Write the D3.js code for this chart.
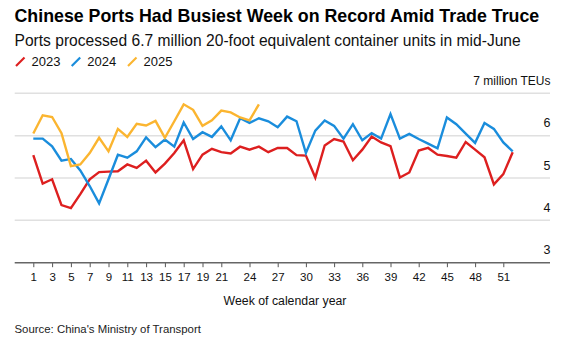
<!DOCTYPE html>
<html><head><meta charset="utf-8">
<script src="https://cdn.jsdelivr.net/npm/d3@7"></script>
<style>body{margin:0;background:#fff}svg{display:block;font-family:"Liberation Sans",Arial,sans-serif}</style>
</head><body><svg id="c" width="567" height="343"></svg>
<script>
const weeks = d3.range(1, 53);
const s2023 = [5.54,4.87,4.97,4.36,4.29,4.62,4.97,5.14,5.15,5.16,5.32,5.24,5.41,5.13,5.34,5.59,5.89,5.21,5.55,5.69,5.61,5.58,5.74,5.67,5.74,5.61,5.71,5.71,5.54,5.53,5.01,5.77,5.92,5.86,5.42,5.67,5.98,5.84,5.75,5.01,5.13,5.65,5.71,5.55,5.52,5.48,5.85,5.67,5.49,4.85,5.09,5.61];
const s2024 = [5.93,5.93,5.75,5.41,5.45,5.18,4.81,4.40,4.97,5.55,5.48,5.63,5.96,5.73,5.91,5.74,6.31,5.92,6.08,5.97,6.22,5.89,6.41,6.30,6.41,6.34,6.20,6.45,6.34,5.59,6.12,6.36,6.23,5.93,6.27,5.89,6.06,5.93,6.51,5.93,6.04,5.92,5.81,5.70,6.43,6.27,6.05,5.83,6.30,6.16,5.84,5.63];
const s2025 = [6.05,6.48,6.44,6.06,5.28,5.32,5.59,5.95,5.63,6.16,5.97,6.28,6.24,6.35,5.95,6.34,6.74,6.61,6.23,6.36,6.59,6.55,6.43,6.36,6.74];
const yTicks = [3,4,5,6,7];
const xTicks = [1,3,5,7,9,11,13,15,17,19,21,24,27,30,33,36,39,42,45,48,51];
const seriesNames = ["2023","2024","2025"];
const colors = ["#dd1f1f","#1a8ddc","#fbb530"];

const svg = d3.select("#c");
const x = d3.scaleLinear().domain([1,52]).range([33.3,512.7]);
const y = d3.scaleLinear().domain([3,7]).range([262.7,93.3]);
const gx0 = 14.7, gx1 = 550;

svg.append("text").attr("x",14.5).attr("y",22).attr("font-size","17.8px").attr("font-weight","bold").attr("fill","#000")
  .text("Chinese Ports Had Busiest Week on Record Amid Trade Truce");
svg.append("text").attr("x",14.5).attr("y",45.5).attr("font-size","15.6px").attr("fill","#111")
  .text("Ports processed 6.7 million 20-foot equivalent container units in mid-June");

// legend
const lx = [16, 71.7, 128];
seriesNames.forEach((n,i)=>{
  const g = svg.append("g");
  g.append("line").attr("x1",lx[i]).attr("y1",66).attr("x2",lx[i]+8.5).attr("y2",57.5)
    .attr("stroke",colors[i]).attr("stroke-width",2.2);
  g.append("text").attr("x",lx[i]+15.5).attr("y",65.7).attr("font-size","13px").attr("fill","#111").text(n);
});

// grid
svg.append("g").selectAll("line").data(yTicks.filter(d=>d>3)).join("line")
  .attr("x1",gx0).attr("x2",gx1).attr("y1",d=>y(d)).attr("y2",d=>y(d))
  .attr("stroke","#e0e0e0").attr("stroke-width",1.5);
svg.append("g").selectAll("text").data(yTicks).join("text")
  .attr("x",550.5).attr("y",d=>y(d)-8.5).attr("text-anchor","end")
  .attr("font-size",d=>d===7 ? "12px" : "12.5px").attr("fill","#111")
  .text(d=>d===7 ? "7 million TEUs" : d);

// x axis
const xAxis = d3.axisBottom(x).tickValues(xTicks).tickSize(4.5).tickPadding(6);
const ax = svg.append("g").attr("transform",`translate(0,${y(3)})`).call(xAxis);
ax.select(".domain").remove();
ax.selectAll(".tick line").attr("stroke","#555").attr("stroke-width",1);
ax.selectAll(".tick text").attr("font-size","11.5px").attr("fill","#111").attr("font-family","Liberation Sans, Arial, sans-serif");
svg.append("line").attr("x1",gx0).attr("x2",gx1).attr("y1",y(3)).attr("y2",y(3)).attr("stroke","#666").attr("stroke-width",1.5);

svg.append("text").attr("x",285).attr("y",305).attr("text-anchor","middle").attr("font-size","12.3px").attr("fill","#111")
  .text("Week of calendar year");
svg.append("text").attr("x",14.5).attr("y",333).attr("font-size","11.4px").attr("fill","#222")
  .text("Source: China's Ministry of Transport");

// lines
const line = d3.line().x((d,i)=>x(weeks[i])).y(d=>y(d));
[s2023,s2024,s2025].forEach((s,i)=>{
  svg.append("path").datum(s).attr("d",line).attr("fill","none").attr("stroke",colors[i])
    .attr("stroke-width",2.4).attr("stroke-linejoin","miter").attr("stroke-linecap","butt");
});
</script></body></html>
